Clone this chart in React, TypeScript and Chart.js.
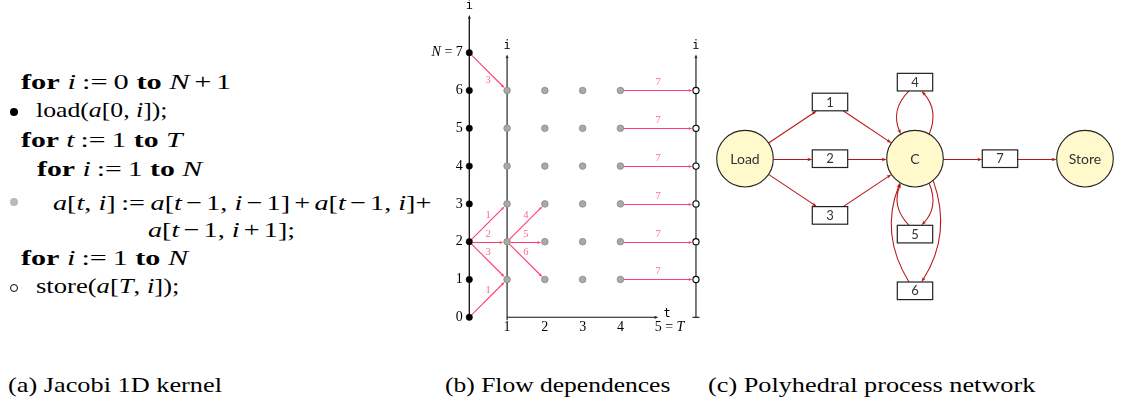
import React, { useEffect, useRef } from 'react';
import { Chart, registerables } from 'chart.js';
Chart.register(...registerables);

// ---------- panel (b): flow dependences ----------
const loadT = 0;
const loadI = [0, 1, 2, 3, 4, 5, 6, 7];
const computeT = [1, 2, 3, 4];
const computeI = [1, 2, 3, 4, 5, 6];
const storeT = 6;
const storeI = [1, 2, 3, 4, 5, 6];
const iTickValues = [0, 1, 2, 3, 4, 5, 6, 7];
const iTickLabels = ['0', '1', '2', '3', '4', '5', '6', 'N = 7'];
const tTickValues = [1, 2, 3, 4, 5];
const tTickLabels = ['1', '2', '3', '4', '5 = T'];
const flowFromT = [0, 0, 0, 0, 0, 1, 1, 1];
const flowFromI = [7, 2, 2, 2, 0, 2, 2, 2];
const flowToT = [1, 1, 1, 1, 1, 2, 2, 2];
const flowToI = [6, 3, 2, 1, 1, 3, 2, 1];
const flowLabels = ['3', '1', '2', '3', '1', '4', '5', '6'];
const storeFlowFromT = 4;
const storeFlowLabel = '7';

// ---------- panel (c): polyhedral process network ----------
const netCircleNames = ['Load', 'C', 'Store'];
const netCircleX = [0, 2, 4];
const netCircleY = [0, 0, 0];
const netBoxNames = ['1', '2', '3', '4', '5', '6', '7'];
const netBoxX = [1, 1, 1, 2, 2, 2, 3];
const netBoxY = [1, 0, -1, 1.35, -1.33, -2.33, 0];
const netEdgeFrom = ['Load', '1', 'Load', '2', 'Load', '3', 'C', '4', 'C', '5', 'C', '6', 'C', '7'];
const netEdgeTo = ['1', 'C', '2', 'C', '3', 'C', '4', 'C', '5', 'C', '6', 'C', '7', 'Store'];

// ---------- captions ----------
const captions = ['(a) Jacobi 1D kernel', '(b) Flow dependences', '(c) Polyhedral process network'];

// ---------- styles ----------
const SERIF = "'Liberation Serif', 'DejaVu Serif', serif";
const SANS = "Lato, 'DejaVu Sans', sans-serif";
const MONO = "'DejaVu Sans Mono', 'Liberation Mono', monospace";
const PINK = '#ff3f6f';
const PINK_LABEL = '#ff6a8e';
const DARKRED = '#b81414';

const curveStyle: Record<string, any> = {
  'C>4': { fromAngle: -60, toOffset: 6.5, side: 1, dev: 7 },
  '4>C': { fromOffset: -6, toAngle: -120, side: -1, dev: 7.5 },
  'C>5': { fromAngle: 60, toOffset: 6.5, side: 1, dev: 7 },
  '5>C': { fromOffset: -6, toAngle: 120, side: -1, dev: 7 },
  'C>6': { fromAngle: 50, toOffset: 6.5, side: 1, dev: 12.5 },
  '6>C': { fromOffset: -6, toAngle: 122, side: -1, dev: 12.5 },
};

function arrowHead(ctx: CanvasRenderingContext2D, x: number, y: number, ux: number, uy: number, len: number, w: number, color: string) {
  ctx.beginPath();
  ctx.moveTo(x, y);
  ctx.lineTo(x - ux * len - uy * w / 2, y - uy * len + ux * w / 2);
  ctx.lineTo(x - ux * len * 0.75, y - uy * len * 0.75);
  ctx.lineTo(x - ux * len + uy * w / 2, y - uy * len - ux * w / 2);
  ctx.closePath();
  ctx.fillStyle = color;
  ctx.fill();
}

function straightArrow(ctx: CanvasRenderingContext2D, x0: number, y0: number, x1: number, y1: number,
  g0: number, g1: number, color: string, lw: number, hl: number, hw: number) {
  const dx = x1 - x0, dy = y1 - y0, L = Math.hypot(dx, dy), ux = dx / L, uy = dy / L;
  const sx = x0 + ux * g0, sy = y0 + uy * g0, ex = x1 - ux * g1, ey = y1 - uy * g1;
  ctx.strokeStyle = color;
  ctx.lineWidth = lw;
  ctx.beginPath();
  ctx.moveTo(sx, sy);
  ctx.lineTo(ex - ux * hl * 0.6, ey - uy * hl * 0.6);
  ctx.stroke();
  arrowHead(ctx, ex, ey, ux, uy, hl, hw, color);
}

function richText(ctx: CanvasRenderingContext2D, parts: [string, string][], x: number, y: number, align: string) {
  let total = 0;
  const ws = parts.map(([t, f]) => { ctx.font = f; const w = ctx.measureText(t).width; total += w; return w; });
  let cx = align === 'right' ? x - total : align === 'center' ? x - total / 2 : x;
  parts.forEach(([t, f], k) => { ctx.font = f; ctx.textAlign = 'left'; ctx.fillText(t, cx, y); cx += ws[k]; });
}

function mathParts(label: string, size: number): [string, string][] {
  const m = label.match(/^([A-Z])( = .*)$/);
  if (m) return [[m[1], `italic ${size}px ${SERIF}`], [m[2], `${size}px ${SERIF}`]];
  const m2 = label.match(/^(.* = )([A-Z])$/);
  if (m2) return [[m2[1], `${size}px ${SERIF}`], [m2[2], `italic ${size}px ${SERIF}`]];
  return [[label, `${size}px ${SERIF}`]];
}

const flowPlugin = {
  id: 'flowPlugin',
  beforeDatasetsDraw(chart: any) {
    const { ctx, scales } = chart;
    const px = (t: number) => scales.x.getPixelForValue(t);
    const py = (i: number) => scales.y.getPixelForValue(i);
    ctx.save();
    const axisCol = '#111';
    ctx.strokeStyle = axisCol;
    ctx.lineWidth = 1.3;
    const leftTop = 8.0, innerTop = 6.95;
    ctx.beginPath(); ctx.moveTo(px(loadT), py(0)); ctx.lineTo(px(loadT), py(leftTop) + 3); ctx.stroke();
    arrowHead(ctx, px(loadT), py(leftTop), 0, -1, 4, 3.2, axisCol);
    ctx.lineWidth = 1.1;
    ctx.beginPath(); ctx.moveTo(px(1), py(0) + 3); ctx.lineTo(px(1), py(innerTop) + 3); ctx.stroke();
    arrowHead(ctx, px(1), py(innerTop), 0, -1, 4, 3.2, axisCol);
    ctx.beginPath(); ctx.moveTo(px(1), py(0)); ctx.lineTo(px(5) - 3, py(0)); ctx.stroke();
    arrowHead(ctx, px(5), py(0), 1, 0, 4, 3.2, axisCol);
    ctx.beginPath(); ctx.moveTo(px(storeT), py(0)); ctx.lineTo(px(storeT), py(innerTop) + 3); ctx.stroke();
    ctx.beginPath(); ctx.moveTo(px(storeT) - 3.5, py(0)); ctx.lineTo(px(storeT) + 3.5, py(0)); ctx.stroke();
    arrowHead(ctx, px(storeT), py(innerTop), 0, -1, 4, 3.2, axisCol);

    ctx.fillStyle = '#000';
    ctx.font = `12px ${MONO}`;
    ctx.textAlign = 'center';
    ctx.textBaseline = 'middle';
    ctx.fillText('i', px(loadT), py(leftTop) - 9);
    ctx.fillText('i', px(1), py(innerTop) - 9);
    ctx.fillText('i', px(storeT), py(innerTop) - 9);
    ctx.fillText('t', px(5) + 9, py(0) - 3);

    ctx.fillStyle = '#000';
    iTickValues.forEach((v, k) => richText(ctx, mathParts(iTickLabels[k], 14), px(loadT) - 6.5, py(v), 'right'));
    tTickValues.forEach((v, k) => {
      const parts = mathParts(tTickLabels[k], 14);
      ctx.font = parts[0][1];
      const first = parts[0][0];
      const lead = first.length > 1 ? ctx.measureText(first[0]).width / 2 : ctx.measureText(first).width / 2;
      richText(ctx, parts, px(v) - lead, py(0) + 10.5, 'left');
    });

    const r = 3.3;
    const drawFlow = (t0: number, i0: number, t1: number, i1: number, label: string, below: boolean) => {
      const x0 = px(t0), x1 = px(t1);
      let y0 = py(i0), y1 = py(i1);
      if (i0 === i1) { y0 = Math.round(y0) + 0.5; y1 = y0; }
      straightArrow(ctx, x0, y0, x1, y1, r, r + 0.3, PINK, 1.1, 4, 3);
      ctx.fillStyle = PINK_LABEL;
      ctx.font = `10.5px ${SERIF}`;
      ctx.textAlign = 'center';
      ctx.textBaseline = 'middle';
      ctx.fillText(label, (x0 + x1) / 2, (y0 + y1) / 2 + (below ? 8.5 : -8));
    };
    flowFromT.forEach((t0, k) => drawFlow(t0, flowFromI[k], flowToT[k], flowToI[k], flowLabels[k], flowFromI[k] === loadI[loadI.length - 1]));
    storeI.forEach((i) => drawFlow(storeFlowFromT, i, storeT, i, storeFlowLabel, false));
    ctx.restore();
  },
};

const BOX_HW = 17.7, BOX_HH = 8.8, NODE_R = 28.3;

function netGeom(chart: any, name: string) {
  const { scales } = chart;
  let k = netCircleNames.indexOf(name);
  if (k >= 0) return { kind: 'circle', x: scales.x.getPixelForValue(netCircleX[k]), y: scales.y.getPixelForValue(netCircleY[k]) };
  k = netBoxNames.indexOf(name);
  return { kind: 'box', x: scales.x.getPixelForValue(netBoxX[k]), y: scales.y.getPixelForValue(netBoxY[k]) };
}

function boundary(g: any, ux: number, uy: number) {
  if (g.kind === 'circle') return [g.x + ux * NODE_R, g.y + uy * NODE_R];
  const t = Math.min(Math.abs(ux) > 1e-9 ? BOX_HW / Math.abs(ux) : 1e9, Math.abs(uy) > 1e-9 ? BOX_HH / Math.abs(uy) : 1e9);
  return [g.x + ux * t, g.y + uy * t];
}

const netPlugin = {
  id: 'netPlugin',
  beforeDatasetsDraw(chart: any) {
    const { ctx } = chart;
    ctx.save();
    netEdgeFrom.forEach((from, k) => {
      const to = netEdgeTo[k];
      const a = netGeom(chart, from), b = netGeom(chart, to);
      const st = curveStyle[`${from}>${to}`];
      if (!st) {
        const dx = b.x - a.x, dy = b.y - a.y, L = Math.hypot(dx, dy), ux = dx / L, uy = dy / L;
        let [sx, sy] = boundary(a, ux, uy);
        let [ex, ey] = boundary(b, -ux, -uy);
        if (Math.abs(dy) < 1e-6) { sy = Math.round(sy) + 0.5; ey = sy; }
        straightArrow(ctx, sx, sy, ex, ey, 0, 0, DARKRED, 1.05, 5, 3.4);
        return;
      }
      const anchor = (g: any, other: any, angle?: number, off?: number) => {
        if (g.kind === 'circle') {
          const r = (angle as number) * Math.PI / 180;
          return [g.x + NODE_R * Math.cos(r), g.y + NODE_R * Math.sin(r)];
        }
        return [g.x + (off as number), g.y + (other.y > g.y ? BOX_HH : -BOX_HH)];
      };
      const [sx, sy] = anchor(a, b, st.fromAngle, st.fromOffset);
      const [ex, ey] = anchor(b, a, st.toAngle, st.toOffset);
      const dx = ex - sx, dy = ey - sy, L = Math.hypot(dx, dy);
      let nx = -dy / L, ny = dx / L;
      if (Math.sign(nx) !== st.side) { nx = -nx; ny = -ny; }
      const cx = (sx + ex) / 2 + nx * st.dev * 2, cy = (sy + ey) / 2 + ny * st.dev * 2;
      const tx = ex - cx, ty = ey - cy, tl = Math.hypot(tx, ty), ux = tx / tl, uy = ty / tl;
      ctx.strokeStyle = DARKRED;
      ctx.lineWidth = 1.05;
      ctx.beginPath();
      ctx.moveTo(sx, sy);
      ctx.quadraticCurveTo(cx, cy, ex - ux * 3, ey - uy * 3);
      ctx.stroke();
      arrowHead(ctx, ex, ey, ux, uy, 5, 3.4, DARKRED);
    });
    ctx.restore();
  },
  afterDatasetsDraw(chart: any) {
    const { ctx } = chart;
    ctx.save();
    ctx.textAlign = 'center';
    ctx.textBaseline = 'middle';
    netCircleNames.forEach((n) => {
      const g = netGeom(chart, n);
      ctx.fillStyle = '#333';
      ctx.font = `14px ${SANS}`;
      ctx.fillText(n, g.x, g.y + 0.5);
    });
    netBoxNames.forEach((n) => {
      const g = netGeom(chart, n);
      ctx.fillStyle = '#fff';
      ctx.fillRect(g.x - BOX_HW, g.y - BOX_HH, BOX_HW * 2, BOX_HH * 2);
      ctx.strokeStyle = '#222';
      ctx.lineWidth = 1.2;
      ctx.strokeRect(g.x - BOX_HW, g.y - BOX_HH, BOX_HW * 2, BOX_HH * 2);
      ctx.fillStyle = '#333';
      ctx.font = `13px ${SANS}`;
      ctx.fillText(n, g.x, g.y + 0.5);
    });
    ctx.restore();
  },
};

// math operator with TeX-like spacing
const Op = ({ s, m }: any) => <span style={{ margin: `0 ${m}em` }}>{s}</span>;
const Rel = ({ s }: any) => <Op s={s} m={0.2} />;
const Bin = ({ s }: any) => <Op s={s} m={0.15} />;

const CODE_SIZE = 22;

// code lines: [left, right, center, bullet]
const codeLayout: [number, number, number, string][] = [
  [21, 231, 84, ''],
  [36, 167, 112, 'black'],
  [21, 183, 142, ''],
  [37, 202, 171, ''],
  [53, 432, 205, 'gray'],
  [148, 295, 232, ''],
  [21, 188, 260, ''],
  [36, 180, 288, 'hollow'],
];
const captionLayout: [number, number][] = [[8, 222], [445, 670], [708, 1035]];

const codeContent = [
  <><b>for</b> <i>i</i><Rel s=":=" />0 <b>to</b> <i>N</i><Bin s="+" />1</>,
  <>load(<i>a</i>[0, <i>i</i>]);</>,
  <><b>for</b> <i>t</i><Rel s=":=" />1 <b>to</b> <i>T</i></>,
  <><b>for</b> <i>i</i><Rel s=":=" />1 <b>to</b> <i>N</i></>,
  <><i>a</i>[<i>t</i>, <i>i</i>]<Rel s=":=" /><i>a</i>[<i>t</i><Bin s="−" />1, <i>i</i><Bin s="−" />1]<Bin s="+" /><i>a</i>[<i>t</i><Bin s="−" />1, <i>i</i>]+</>,
  <><i>a</i>[<i>t</i><Bin s="−" />1, <i>i</i><Bin s="+" />1];</>,
  <><b>for</b> <i>i</i><Rel s=":=" />1 <b>to</b> <i>N</i></>,
  <>store(<i>a</i>[<i>T</i>, <i>i</i>]);</>,
];

function Bullet({ center, kind }: any) {
  const style: any = { position: 'absolute', left: 10, top: center - 4, width: 8, height: 8, borderRadius: '50%', boxSizing: 'border-box' };
  if (kind === 'black') style.background = '#000';
  if (kind === 'gray') style.background = '#b5bdb3';
  if (kind === 'hollow') style.border = '1.3px solid #000';
  return <div style={style} />;
}

export default function App() {
  const bRef = useRef<HTMLCanvasElement>(null);
  const cRef = useRef<HTMLCanvasElement>(null);
  const lineRefs = useRef<(HTMLDivElement | null)[]>([]);
  const capRefs = useRef<(HTMLDivElement | null)[]>([]);

  useEffect(() => {
    const fit = () => {
      lineRefs.current.forEach((el, k) => {
        if (!el) return;
        const [l, r] = codeLayout[k];
        const w = el.offsetWidth;
        if (w > 0) el.style.transform = `scaleX(${(r - l) / w})`;
      });
      capRefs.current.forEach((el, k) => {
        if (!el) return;
        const [l, r] = captionLayout[k];
        const w = el.offsetWidth;
        if (w > 0) el.style.transform = `scaleX(${(r - l) / w})`;
      });
    };
    fit();
    if ((document as any).fonts && (document as any).fonts.ready) (document as any).fonts.ready.then(fit);

    const chartB = new Chart(bRef.current as HTMLCanvasElement, {
      type: 'scatter',
      data: {
        datasets: [
          { label: 'load', data: loadI.map((i) => ({ x: loadT, y: i })), pointRadius: 3.2, pointBackgroundColor: '#000', pointBorderColor: '#000', pointBorderWidth: 0.5 },
          { label: 'compute', data: computeT.flatMap((t) => computeI.map((i) => ({ x: t, y: i }))), pointRadius: 3.3, pointBackgroundColor: '#a9aaa4', pointBorderColor: '#888983', pointBorderWidth: 0.8 },
          { label: 'store', data: storeI.map((i) => ({ x: storeT, y: i })), pointRadius: 3.1, pointBackgroundColor: '#fff', pointBorderColor: '#000', pointBorderWidth: 1.1 },
        ],
      },
      options: {
        animation: false,
        responsive: false,
        maintainAspectRatio: false,
        events: [],
        layout: { padding: 0, autoPadding: false },
        plugins: { legend: { display: false }, tooltip: { enabled: false } },
        scales: {
          x: { type: 'linear', min: -1.305, max: 6.636, display: false },
          y: { type: 'linear', min: -0.6005, max: 8.394, display: false },
        },
      },
      plugins: [flowPlugin],
    } as any);

    const chartC = new Chart(cRef.current as HTMLCanvasElement, {
      type: 'scatter',
      data: {
        datasets: [
          { label: 'processes', data: netCircleX.map((x, k) => ({ x, y: netCircleY[k] })), pointRadius: NODE_R, pointBackgroundColor: '#fff9cb', pointBorderColor: '#222', pointBorderWidth: 1.1, clip: false },
        ],
      },
      options: {
        animation: false,
        responsive: false,
        maintainAspectRatio: false,
        events: [],
        layout: { padding: 0, autoPadding: false },
        plugins: { legend: { display: false }, tooltip: { enabled: false } },
        scales: {
          x: { type: 'linear', min: -0.5294, max: 4.4118, display: false },
          y: { type: 'linear', min: -2.6685, max: 1.7407, display: false },
        },
      },
      plugins: [netPlugin],
    } as any);
    return () => { chartB.destroy(); chartC.destroy(); };
  }, []);

  const textBase: any = { position: 'absolute', whiteSpace: 'nowrap', color: '#000', transformOrigin: 'left center' };

  return (
    <div style={{ position: 'absolute', left: 0, top: 0, width: 1121, height: 406, background: '#fff', overflow: 'hidden' }}>
      {codeLayout.map(([l, , c, bullet], k) => (
        <React.Fragment key={k}>
          {bullet ? <Bullet center={bullet === 'gray' ? c - 3 : c} kind={bullet} /> : null}
          <div ref={(el) => { lineRefs.current[k] = el; }}
            style={{ ...textBase, left: l, top: c - CODE_SIZE / 2 - 2, font: `${CODE_SIZE}px ${SERIF}`, lineHeight: `${CODE_SIZE}px` }}>
            {codeContent[k]}
          </div>
        </React.Fragment>
      ))}

      <canvas ref={bRef} width={300} height={340} style={{ position: 'absolute', left: 420, top: 0, width: 300, height: 340 }} />
      <canvas ref={cRef} width={420} height={250} style={{ position: 'absolute', left: 700, top: 60, width: 420, height: 250 }} />

      {captions.map((t, k) => (
        <div key={t} ref={(el) => { capRefs.current[k] = el; }}
          style={{ ...textBase, left: captionLayout[k][0], top: 373, font: `22px ${SERIF}`, lineHeight: '24px' }}>
          {t}
        </div>
      ))}
    </div>
  );
}
